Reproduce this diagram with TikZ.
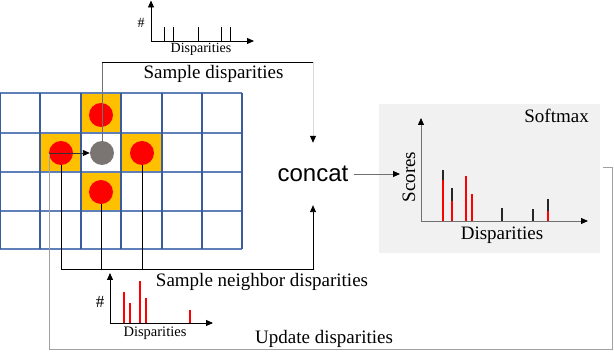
\documentclass[tikz,border=0pt]{standalone}
\usepackage{fontspec}
\setmainfont{Liberation Serif}
\newfontfamily\arialfont{Liberation Sans}
\usetikzlibrary{arrows.meta}
\definecolor{gridblue}{HTML}{3A5C9C}
\definecolor{gridlight}{HTML}{5F7FB8}
\definecolor{orng}{HTML}{FFC000}
\definecolor{cgray}{HTML}{7A7572}
\definecolor{boxgray}{HTML}{F1F1F1}
\definecolor{loopgray}{HTML}{A0A0A0}
\definecolor{lightline}{HTML}{D8D8D8}
\definecolor{midline}{HTML}{707070}
\tikzset{
  gridline/.style={draw=gridblue, line width=1.2pt},
  gridlineh/.style={draw=gridlight, line width=1.2pt},
  dot/.style={circle, fill=red, minimum size=24pt, inner sep=0pt},
  cdot/.style={circle, fill=cgray, minimum size=24pt, inner sep=0pt},
  conn/.style={line width=0.9pt},
  tipend/.style={-{Triangle[length=7pt,width=6pt,color=black]}},
  lbl/.style={font=\fontsize{19}{21}\selectfont, inner sep=0pt},
  sm/.style={font=\fontsize{14.5}{16}\selectfont, inner sep=0pt},
  bar/.style={line width=1.3pt},
}
\begin{document}
\begin{tikzpicture}[x=1pt,y=-1pt]
\useasboundingbox (0,0) rectangle (614,352);

% orange cells
\fill[orng] (81,93) rectangle (121,133);
\fill[orng] (40,133) rectangle (81,172);
\fill[orng] (121,133) rectangle (162,172);
\fill[orng] (81,172) rectangle (121,211);

% grid
\foreach \y in {93,133,172,211,249}
  \draw[gridlineh] (0,\y) -- (242,\y);
\foreach \x in {0.6,40,81,121,162,202,242}
  \draw[gridline] (\x,93) -- (\x,249);

% circles
\node[dot] (top) at (101,115) {};
\node[dot] (left) at (61,153) {};
\node[dot] (right) at (142,153) {};
\node[dot] (bot) at (101,192) {};
\node[cdot] (mid) at (102,153) {};

% concat
\node[font=\arialfont\fontsize{24}{26}\selectfont, inner ysep=0pt, inner xsep=5pt,
      minimum height=62pt] (concat) at (313,174) {concat};

% softmax box
\node[fill=boxgray, minimum width=221pt, minimum height=149pt, inner sep=0pt,
      anchor=north west] (smbox) at (379,104) {};
\node[lbl, anchor=east] (smlabel) at (589,116) {Softmax};

% top sample line
\coordinate (tl) at (102,62);
\coordinate (tr) at (313,62);
\draw[conn, draw=midline] (mid.north) -- (tl);
\draw[conn] (tl) -- (tr);
\draw[conn, draw=lightline, tipend] (tr) -- (concat.north);
\node[lbl] (sdlabel) at (213.5,74) {Sample disparities};

% neighbor lines
\coordinate (nb) at (313,269);
\draw[conn, tipend] (left.south) |- (nb) -- (concat.south);
\draw[conn] (bot.south) -- (bot.south |- nb);
\draw[conn] (right.south) -- (right.south |- nb);
\node[lbl] (snlabel) at (262,282) {Sample neighbor disparities};

% concat to softmax
\coordinate (smin) at (400,174);
\draw[conn, draw=midline, tipend] (concat.east) -- (smin);

% update loop
\coordinate (ustart) at (603,167);
\coordinate (ucorner) at (49,153);
\draw[conn, draw=loopgray] (ustart) -- (612,167) -- (612,349) -- (49,349) -- (ucorner);
\draw[conn, draw=black!80, tipend] (ucorner) -- (mid.west);
\node[lbl, anchor=west] (uplabel) at (255,339) {Update disparities};

% top histogram
\draw[conn, tipend] (151,41) -- (151,0.5);
\draw[conn, tipend] (151,41) -- (254,41);
\foreach \x in {164,173,198,221,230}
  \draw[line width=1pt] (\x,41) -- (\x,27);
\node[font=\fontsize{14}{15}\selectfont, inner sep=0pt] (th) at (141,23) {\#};
\node[sm, font=\fontsize{14}{15}\selectfont] (tdl) at (201,49) {Disparities};

% bottom histogram
\draw[conn, tipend] (110,323) -- (110,273);
\draw[conn, tipend] (110,323) -- (213,323);
\foreach \x/\t in {124/292,130/303,140/281,146/298,190/310}
  \draw[red, line width=1.1pt] (\x,323) -- (\x,\t);
\node[font=\fontsize{17}{18}\selectfont, inner sep=0pt] (bh) at (100,302) {\#};
\node[sm] (bdl) at (155,333) {Disparities};

% softmax chart
\draw[conn, draw=midline, tipend] (421,221) -- (421,118);
\draw[conn, draw=midline, tipend] (421,221) -- (588,221);
\foreach \x/\t/\r in {443/170/180,452/188/201,466/176/176,472/194/194,502/208/221,533/209/221,548/199/211}{
  \draw[bar, draw=black!85] (\x,\r) -- (\x,\t);
  \draw[bar, red] (\x,221) -- (\x,\r);
}
\node[lbl] (sdis) at (502,235) {Disparities};
\node[lbl, rotate=90] (sscore) at (409,177) {Scores};
\end{tikzpicture}
\end{document}
